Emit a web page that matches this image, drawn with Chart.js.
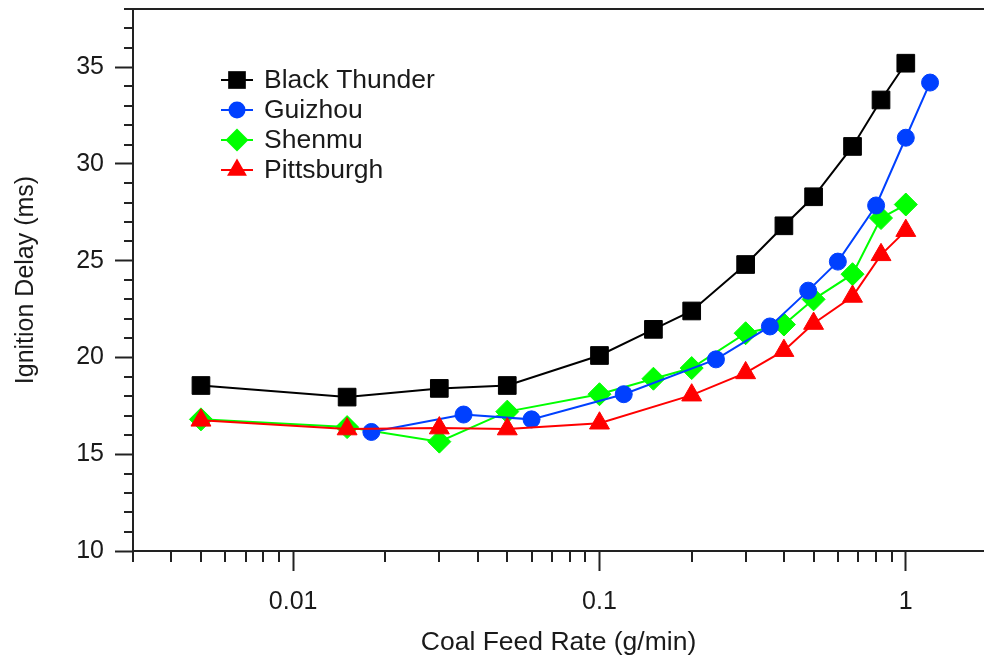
<!DOCTYPE html>
<html>
<head>
<meta charset="utf-8">
<script src="https://cdn.jsdelivr.net/npm/chart.js@4.4.1/dist/chart.umd.min.js"></script>
<style>
  html, body { margin: 0; padding: 0; background: #fff; }
  #wrap { width: 984px; height: 659px; }
</style>
</head>
<body>
<div id="wrap"><canvas id="chart" width="984" height="659"></canvas></div>
<script>
// coal feed rate (g/min) vs ignition delay (ms)
var blackThunderX = [0.005, 0.015, 0.03, 0.05, 0.1, 0.15, 0.2, 0.3, 0.4, 0.5, 0.67, 0.83, 1.0];
var blackThunderY = [18.55, 17.95, 18.4, 18.55, 20.1, 21.45, 22.4, 24.8, 26.8, 28.3, 30.9, 33.3, 35.2];
var guizhouX = [0.018, 0.036, 0.06, 0.12, 0.24, 0.36, 0.48, 0.6, 0.8, 1.0, 1.2];
var guizhouY = [16.15, 17.05, 16.8, 18.1, 19.9, 21.6, 23.45, 24.95, 27.85, 31.35, 34.2];
var shenmuX = [0.005, 0.015, 0.03, 0.05, 0.1, 0.15, 0.2, 0.3, 0.4, 0.5, 0.67, 0.83, 1.0];
var shenmuY = [16.8, 16.4, 15.65, 17.2, 18.1, 18.9, 19.45, 21.25, 21.7, 23.0, 24.3, 27.2, 27.9];
var pittsburghX = [0.005, 0.015, 0.03, 0.05, 0.1, 0.2, 0.3, 0.4, 0.5, 0.67, 0.83, 1.0];
var pittsburghY = [16.75, 16.3, 16.35, 16.3, 16.6, 18.05, 19.2, 20.35, 21.75, 23.15, 25.3, 26.55];

var seriesNames = ['Black Thunder', 'Guizhou', 'Shenmu', 'Pittsburgh'];

// axis ticks
var xTicks = [0.003, 0.004, 0.005, 0.006, 0.007, 0.008, 0.009,
              0.01, 0.02, 0.03, 0.04, 0.05, 0.06, 0.07, 0.08, 0.09,
              0.1, 0.2, 0.3, 0.4, 0.5, 0.6, 0.7, 0.8, 0.9, 1];
var xMajor = [0.01, 0.1, 1];
var xMajorLabels = ['0.01', '0.1', '1'];
var yTicks = [10, 11, 12, 13, 14, 15, 16, 17, 18, 19, 20, 21, 22, 23, 24, 25, 26, 27, 28, 29,
              30, 31, 32, 33, 34, 35, 36, 37, 38];
var yMajor = [10, 15, 20, 25, 30, 35];

function toPoints(xs, ys) {
  var pts = [];
  for (var i = 0; i < xs.length; ++i) pts.push({x: xs[i], y: ys[i]});
  return pts;
}

var AXIS = '#222';
var TEXT = '#1a1a1a';
Chart.defaults.font.family = "'Liberation Sans', Arial, sans-serif";
Chart.defaults.color = TEXT;

var styles = [
  {color: '#000000', shape: 'rect', r: 12.5},
  {color: '#0040ff', shape: 'circle', r: 8.5},
  {color: '#00ff00', shape: 'rectRot', r: 11.5},
  {color: '#ff0000', shape: 'triangle', r: 11.5}
];
var seriesData = [
  toPoints(blackThunderX, blackThunderY),
  toPoints(guizhouX, guizhouY),
  toPoints(shenmuX, shenmuY),
  toPoints(pittsburghX, pittsburghY)
];
// red on top, then blue, green, black at the bottom
var drawOrder = [3, 1, 2, 0];

var datasets = [];
for (var k = 0; k < seriesNames.length; ++k) {
  datasets.push({
    label: seriesNames[k],
    data: seriesData[k],
    borderColor: styles[k].color,
    backgroundColor: styles[k].color,
    borderWidth: 2,
    pointStyle: styles[k].shape,
    pointRadius: styles[k].r,
    pointBorderWidth: 1,
    pointBorderColor: styles[k].color,
    pointBackgroundColor: styles[k].color,
    tension: 0,
    order: drawOrder[k]
  });
}

function markerPath(ctx, shape, r, x, y) {
  ctx.beginPath();
  if (shape === 'rect') {
    var s = r * Math.SQRT1_2;
    ctx.rect(x - s, y - s, 2 * s, 2 * s);
  } else if (shape === 'circle') {
    ctx.arc(x, y, r, 0, Math.PI * 2);
  } else if (shape === 'rectRot') {
    ctx.moveTo(x - r, y); ctx.lineTo(x, y - r); ctx.lineTo(x + r, y); ctx.lineTo(x, y + r);
  } else {
    ctx.moveTo(x, y - r);
    ctx.lineTo(x + r * 0.866, y + r * 0.5);
    ctx.lineTo(x - r * 0.866, y + r * 0.5);
  }
  ctx.closePath();
}

// legend sitting inside the plot, top left
var insideLegend = {
  id: 'insideLegend',
  afterDraw: function (chart) {
    var ctx = chart.ctx, a = chart.chartArea;
    var x0 = a.left + 88, y0 = a.top + 71, rowH = 30;
    ctx.save();
    ctx.font = "26.5px 'Liberation Sans', Arial, sans-serif";
    ctx.textBaseline = 'middle';
    for (var i = 0; i < seriesNames.length; ++i) {
      var y = y0 + i * rowH, st = styles[i];
      ctx.strokeStyle = st.color; ctx.fillStyle = st.color; ctx.lineWidth = 2;
      ctx.beginPath(); ctx.moveTo(x0, y); ctx.lineTo(x0 + 32, y); ctx.stroke();
      markerPath(ctx, st.shape, st.r, x0 + 16, y);
      ctx.fill();
      ctx.fillStyle = TEXT;
      ctx.fillText(seriesNames[i], x0 + 43, y + 1);
    }
    ctx.restore();
  }
};

// short minor ticks and the top frame line
var axisExtras = {
  id: 'axisExtras',
  afterDraw: function (chart) {
    var ctx = chart.ctx, a = chart.chartArea, xs = chart.scales.x, ys = chart.scales.y;
    ctx.save();
    ctx.strokeStyle = AXIS; ctx.lineWidth = 2;
    ctx.beginPath();
    ctx.moveTo(a.left - 1, a.top); ctx.lineTo(a.right, a.top);
    xs.ticks.forEach(function (t) {
      if (xMajor.indexOf(t.value) < 0) {
        var p = Math.round(xs.getPixelForValue(t.value));
        ctx.moveTo(p, a.bottom); ctx.lineTo(p, a.bottom + 11);
      }
    });
    ys.ticks.forEach(function (t) {
      if (yMajor.indexOf(t.value) < 0) {
        var p = Math.round(ys.getPixelForValue(t.value));
        ctx.moveTo(a.left - 9, p); ctx.lineTo(a.left, p);
      }
    });
    ctx.stroke();
    ctx.restore();
  }
};

function noEdgePadding(scale) {
  scale.paddingLeft = 0; scale.paddingRight = 0;
  scale.paddingTop = 0; scale.paddingBottom = 0;
}

var chart = new Chart(document.getElementById('chart').getContext('2d'), {
  type: 'line',
  data: {datasets: datasets},
  plugins: [axisExtras, insideLegend],
  options: {
    responsive: false,
    animation: false,
    devicePixelRatio: 1,
    layout: {autoPadding: false, padding: {top: 9, right: 0, left: 0, bottom: 0}},
    plugins: {legend: {display: false}, tooltip: {enabled: false}},
    scales: {
      x: {
        type: 'logarithmic',
        position: 'bottom',
        min: 0.003,
        max: 1.8,
        afterBuildTicks: function (scale) {
          scale.ticks = xTicks.map(function (v) { return {value: v, major: xMajor.indexOf(v) >= 0}; });
        },
        afterFit: function (scale) { scale.height = 108; noEdgePadding(scale); },
        ticks: {
          autoSkip: false,
          maxRotation: 0,
          padding: 16,
          font: {size: 25},
          color: TEXT,
          callback: function (v) {
            var i = xMajor.indexOf(v);
            return i >= 0 ? xMajorLabels[i] : '';
          }
        },
        grid: {
          drawOnChartArea: false,
          tickLength: 20,
          tickWidth: 2,
          tickColor: function (c) { return c.tick && xMajor.indexOf(c.tick.value) >= 0 ? AXIS : 'rgba(0,0,0,0)'; }
        },
        border: {color: AXIS, width: 2},
        title: {
          display: true,
          text: 'Coal Feed Rate (g/min)',
          font: {size: 26.5},
          color: TEXT,
          padding: {top: 0, bottom: 0}
        }
      },
      y: {
        min: 10,
        max: 38,
        afterBuildTicks: function (scale) {
          scale.ticks = yTicks.map(function (v) { return {value: v}; });
        },
        afterFit: function (scale) { scale.width = 133; noEdgePadding(scale); },
        ticks: {
          autoSkip: false,
          padding: 11,
          font: {size: 25},
          color: TEXT,
          callback: function (v) { return yMajor.indexOf(v) >= 0 ? String(v) : ''; }
        },
        grid: {
          drawOnChartArea: false,
          tickLength: 18,
          tickWidth: 2,
          tickColor: function (c) { return c.tick && yMajor.indexOf(c.tick.value) >= 0 ? AXIS : 'rgba(0,0,0,0)'; }
        },
        border: {color: AXIS, width: 2},
        title: {
          display: true,
          text: 'Ignition Delay (ms)',
          font: {size: 25},
          color: TEXT,
          padding: {top: 11, bottom: 0}
        }
      }
    }
  }
});
</script>
</body>
</html>
